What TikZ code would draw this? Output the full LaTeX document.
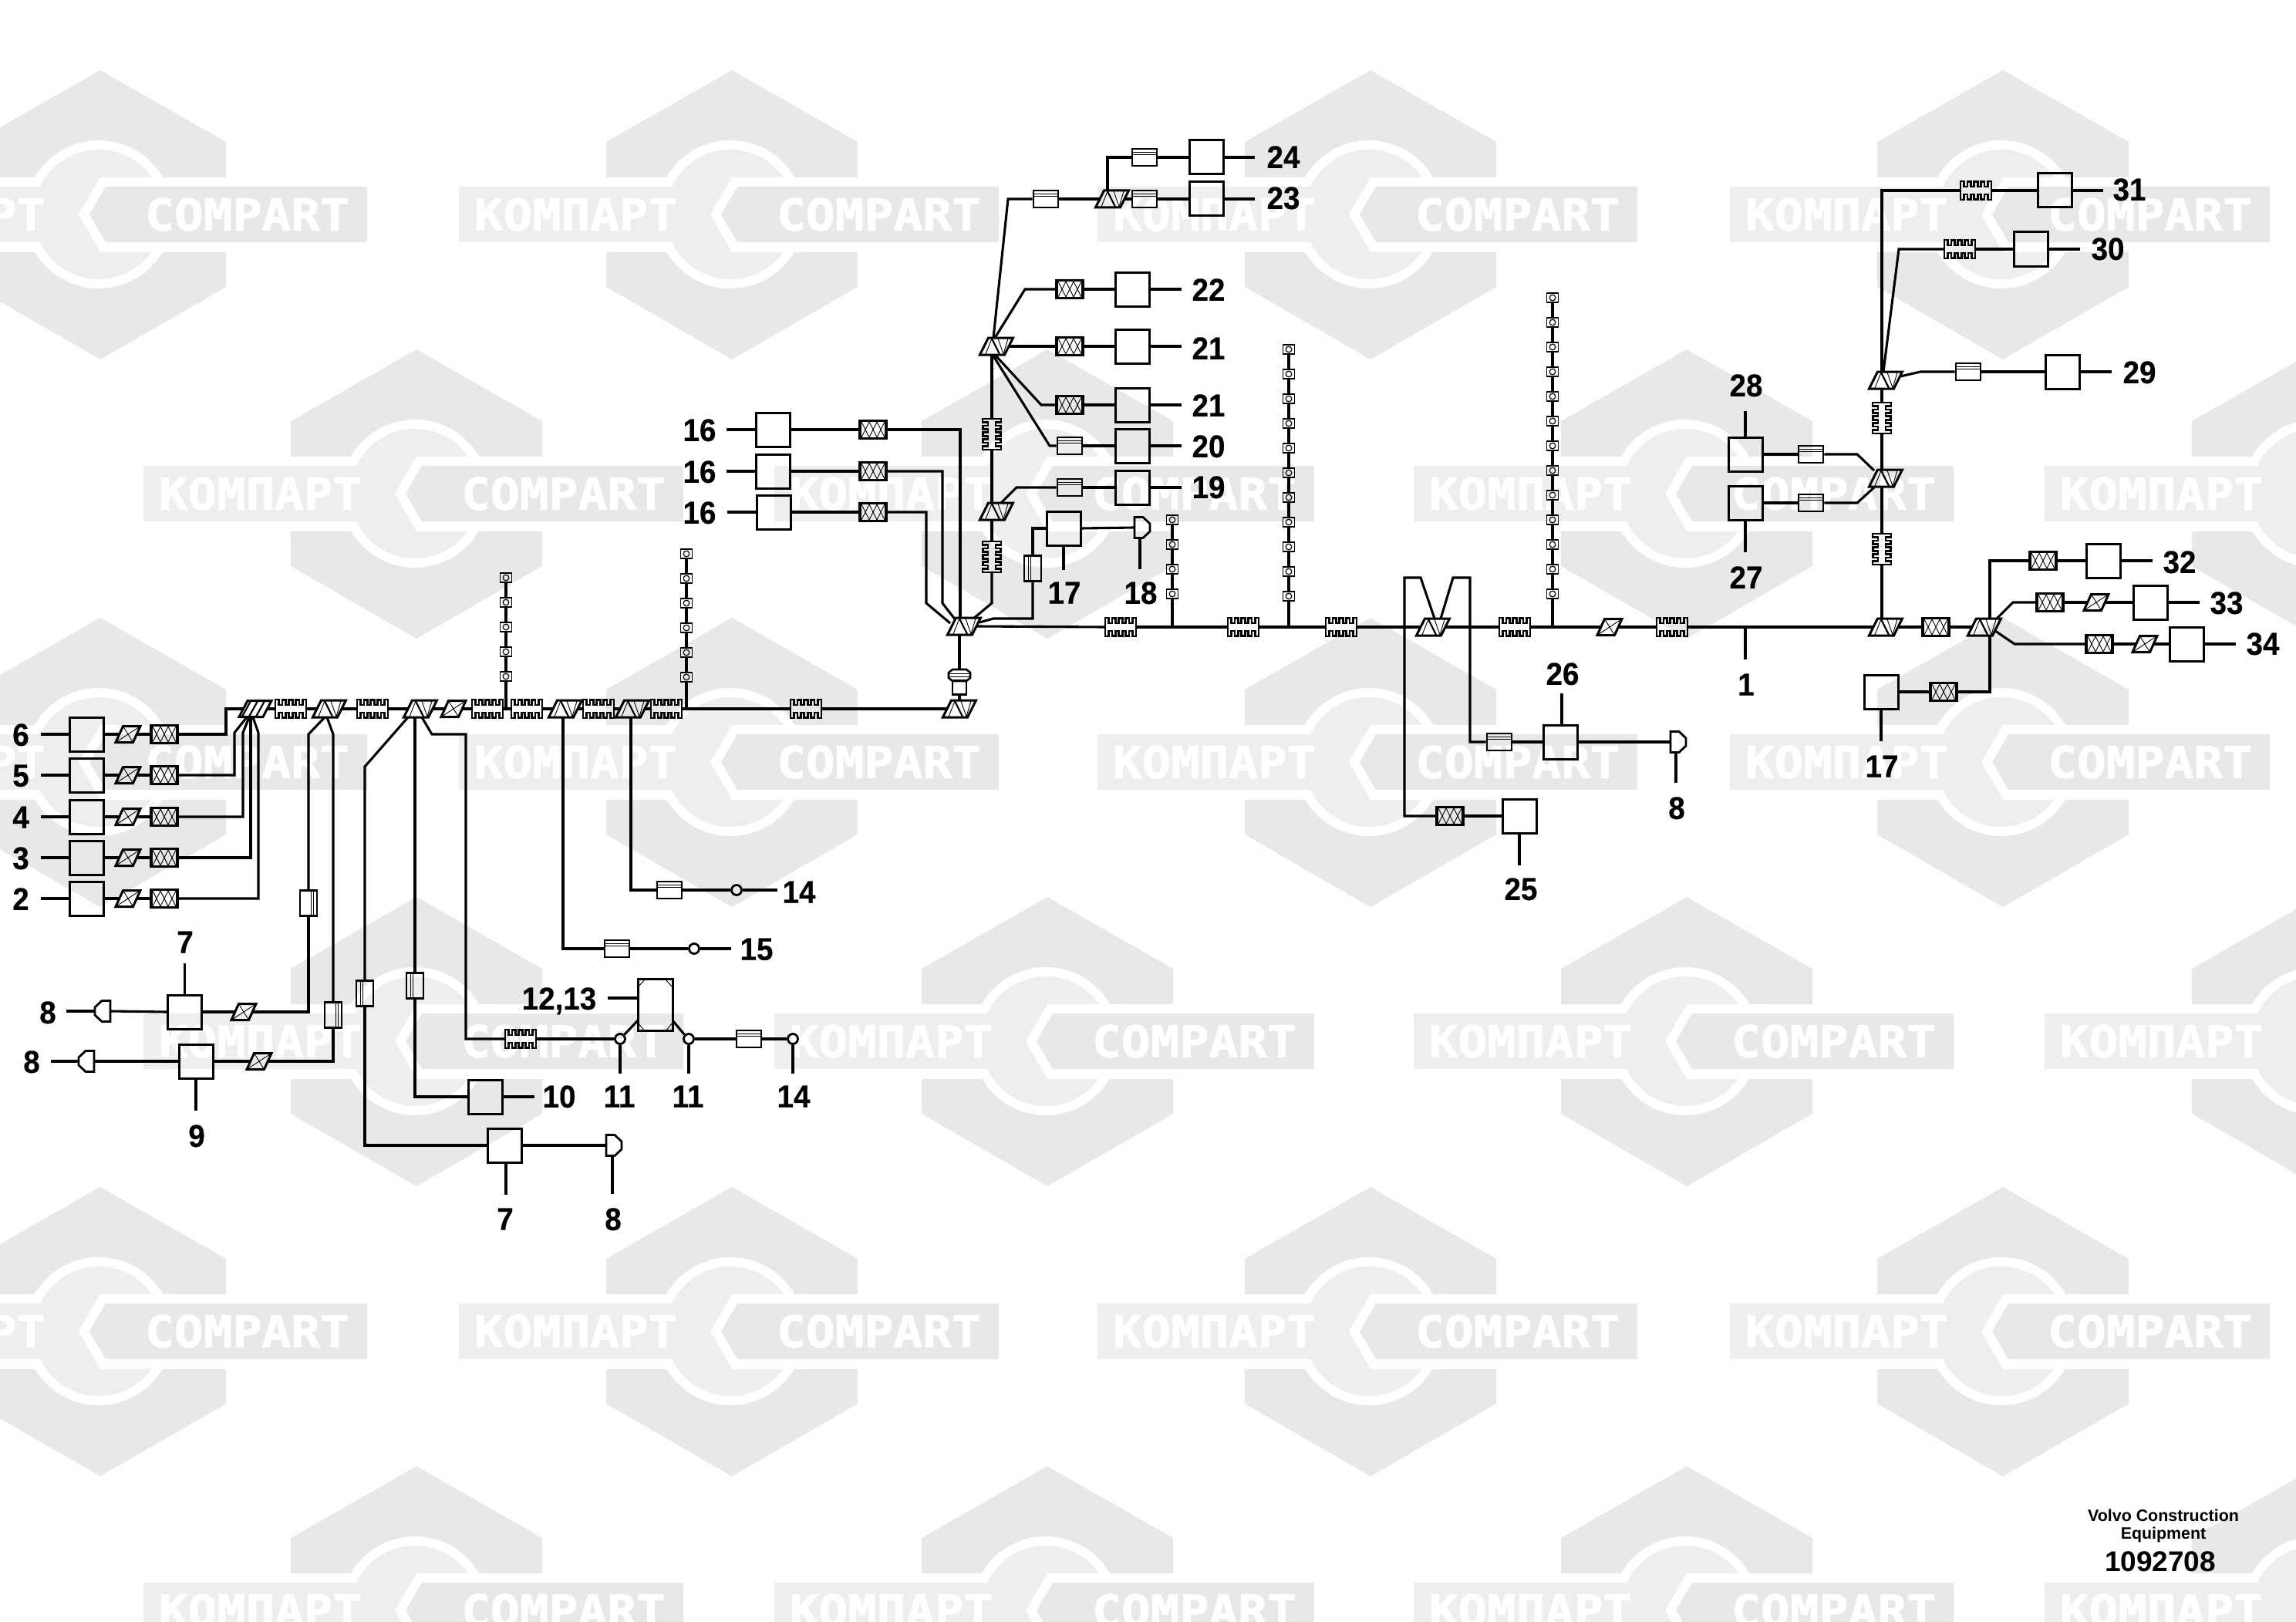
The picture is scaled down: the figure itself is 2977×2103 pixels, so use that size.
\documentclass[tikz,border=0pt]{standalone}
\usepackage{fontspec}
\usepackage{graphicx}
\setmainfont{Liberation Sans}
\newfontfamily\labfont[FakeStretch=0.94,FakeBold=0.35]{Liberation Sans Bold}
\newfontfamily\plainbold{Liberation Sans Bold}
\newfontfamily\wmfont[FakeBold=1.6]{DejaVu Sans Mono Bold}
\definecolor{wmA}{HTML}{E8E8E8}
\definecolor{wmB}{HTML}{EEEEEE}
\tikzset{
  wire/.style={line width=1.55pt,line join=miter},
  lead/.style={line width=1.8pt},
  thinl/.style={line width=.45pt},
  midl/.style={line width=1.1pt},
  boxn/.style={draw,rectangle,line width=1.5pt,minimum width=22pt,minimum height=22pt,inner sep=0pt},
  xxn/.style={draw,rectangle,line width=1.7pt,minimum width=17pt,minimum height=11.5pt,inner sep=0pt},
  shn/.style={draw,rectangle,line width=1.4pt,minimum width=16pt,minimum height=11pt,inner sep=0pt},
  svn/.style={draw,rectangle,line width=1.4pt,minimum width=11pt,minimum height=16.5pt,inner sep=0pt},
  pxn/.style={rectangle,minimum width=11.25pt,minimum height=10.5pt,inner sep=0pt},
  avn/.style={rectangle,minimum width=16pt,minimum height=11pt,inner sep=0pt},
  chn/.style={draw,rectangle,line width=.6pt,minimum width=7.5pt,minimum height=6pt,inner sep=0pt},
  cin/.style={draw,circle,line width=1.4pt,minimum size=6.5pt,inner sep=0pt},
  lab/.style={font=\labfont\fontsize{20.5}{22}\selectfont,inner sep=0pt,text depth=0pt,xshift=.5pt,yshift=-.3pt},
  wmt/.style={text=white,inner sep=0pt},
}
% symbols
\newcommand\Bx[3]{\node[boxn] (#1) at (#2,#3) {};}
\newcommand\XX[3]{\node[xxn] (#1) at (#2,#3) {};
  \begin{scope}[shift={(#2,#3)}]
  \draw[thinl] (-15,-10)--(-5,10) (-15,10)--(-5,-10) (-5,-10)--(5,10) (-5,10)--(5,-10) (5,-10)--(15,10) (5,10)--(15,-10);
  \end{scope}}
\newcommand\Px[3]{\node[pxn] (#1) at (#2,#3) {};
  \begin{scope}[shift={(#2,#3)}]
  \draw[line width=1.5pt,line join=miter] (-16,10.5)--(6.5,10.5)--(16,-10.5)--(-6.5,-10.5)--cycle;
  \draw[thinl] (-16,10.5)--(16,-10.5) (-6.5,-10.5)--(6.5,10.5);
  \end{scope}}
\newcommand\Av[3]{\node[avn] (#1) at (#2,#3) {};
  \begin{scope}[shift={(#2,#3)}]
  \draw[line width=1.5pt,line join=miter] (-21.5,11)--(10.5,11)--(21.5,-11)--(-10.5,-11)--cycle;
  \draw[thinl] (-6,-10)--(-14,10) (2,-10)--(9,10) (15,-10)--(9,10);
  \draw[midl] (-6,-10)--(4,10);
  \end{scope}}
\newcommand\combpath{(-20,-12)--(-15.5,-12)--(-15.5,-5)--(-11,-5)--(-11,-11.5)--(-6.5,-11.5)--(-6.5,-5)--(-2.5,-5)--(-2.5,-11.5)--(2.5,-11.5)--(2.5,-5)--(6.5,-5)--(6.5,-11.5)--(11,-11.5)--(11,-5)--(15.5,-5)--(15.5,-12)--(20,-12)--(20,12)--(15.5,12)--(15.5,5)--(11,5)--(11,11.5)--(6.5,11.5)--(6.5,5)--(2.5,5)--(2.5,11.5)--(-2.5,11.5)--(-2.5,5)--(-6.5,5)--(-6.5,11.5)--(-11,11.5)--(-11,5)--(-15.5,5)--(-15.5,12)--(-20,12)--cycle}
\newcommand\Cb[3]{\node[inner sep=0pt,minimum width=20pt,minimum height=11.5pt] (#1) at (#2,#3) {};
  \begin{scope}[shift={(#2,#3)}]\draw[line width=1.35pt] \combpath;\end{scope}}
\newcommand\Cv[3]{\node[inner sep=0pt,minimum width=11.5pt,minimum height=20pt] (#1) at (#2,#3) {};
  \begin{scope}[shift={(#2,#3)},rotate=90]\draw[line width=1.35pt] \combpath;\end{scope}}
\newcommand\Sh[3]{\node[shn] (#1) at (#2,#3) {};
  \begin{scope}[shift={(#2,#3)}]
  \draw[thinl] (-15,-6.5)--(15,-6.5) (-15,-3.5)--(15,-3.5);
  \end{scope}}
\newcommand\Sv[4]{\node[svn] (#1) at (#2,#3) {};
  \begin{scope}[shift={(#2,#3)}]
  \draw[thinl] (#4*3,-15)--(#4*3,15) (#4*6,-15)--(#4*6,15);
  \end{scope}}
\newcommand\Ci[3]{\node[cin] (#1) at (#2,#3) {};}
% plug: #4 = 1 chamfer on the right, -1 chamfer on the left
\newcommand\Pg[4]{\node[inner sep=0pt,minimum width=10pt,minimum height=13.5pt] (#1) at (#2,#3) {};
  \begin{scope}[shift={(#2,#3)},xscale=#4]
  \draw[line width=1.4pt] (-10,-13.5)--(1,-13.5)--(10,-5)--(10,5)--(1,13.5)--(-10,13.5)--cycle;
  \end{scope}}
\newcommand\Wm[2]{%
  \begin{scope}[shift={(#1,#2)}]
  \fill[wmA] (-163,-48)--(-163,-94)--(0,-187)--(163,-94)--(163,-48)--cycle;
  \fill[wmA] (-163,49)--(-163,94)--(0,188)--(163,94)--(163,49)--cycle;
  \fill[white] (-2,0) circle[radius=96];
  \fill[wmB] (-2,0) circle[radius=84];
  \fill[wmB] (-354,-36) rectangle (-60,36);
  \fill[white] (0,-48)--(-28,0)--(0,49)--(100,49)--(100,-48)--cycle;
  \fill[wmA] (7,-36)--(-14,0)--(7,36)--(346,36)--(346,-36)--cycle;
  \node[wmt] (wk#1x#2) at (-202.5,0) {\resizebox{131.5pt}{21pt}{\wmfont КОМПАРТ}};
  \node[wmt] (wc#1x#2) at (190.5,0) {\resizebox{132.5pt}{21pt}{\wmfont COMPART}};
  \end{scope}}
\newcommand\Spine[5]{% name,x,jy,ybottom,lastindex
  \foreach \i in {0,...,#5}{
    \node[chn] (#1\i) at (#2,#4-\i*32) {};
    \draw[line width=.6pt] (#2,#4-\i*32) circle[radius=3.8];
  }
  \coordinate (#1j) at (#2,#3);
  \draw[wire] (#1j) -- (#10.south);
  \foreach \i in {1,...,#5}{
    \pgfmathtruncatemacro{\j}{\i-1}
    \draw[wire] (#1\j.north) -- (#1\i.south);
  }
}
\begin{document}
\begin{tikzpicture}[x=0.5pt,y=-0.5pt]
\useasboundingbox (0,0) rectangle (2977,2103);
\fill[white] (0,0) rectangle (2977,2103);
\begin{scope}
\clip (0,0) rectangle (2977,2103);
\foreach \yy in {278,988,1726}{\foreach \xx in {130,949,1777,2597}{\Wm{\xx}{\yy}}}
\foreach \yy in {640,1350,2088}{\foreach \xx in {540,1358,2187,3005}{\Wm{\xx}{\yy}}}
\end{scope}

% ---------- left block
\foreach \n/\y in {6/952,5/1005,4/1059,3/1112,2/1165}{
  \Bx{b\n}{112}{\y}
  \Px{q\n}{166}{\y}
  \XX{x\n}{213}{\y}
  \node[lab] (l\n) at (26,\y) {\n};
  \draw[lead] (b\n.west) -- ++(-36,0);
  \draw[wire] (b\n.east) -- (q\n.west);
  \draw[wire] (q\n.east) -- (x\n.west);
}
\node[avn] (p5) at (331,919) {};
\draw[line width=1.5pt,line join=miter] (310,929.5)--(341,929.5)--(352,908.5)--(321,908.5)--cycle;
\draw[midl] (325,909)--(314,929) (334,909)--(323,929) (343,909)--(332,929);
\draw[wire] (x6.east) -- (293,952) -- (293,919) -- (p5.west);
\draw[wire] (x5.east) -- (304,1005) -- (304,950) -- ([shift={(-11,11)}]p5.center);
\draw[wire] (x4.east) -- (315,1059) -- (315,950) -- ([shift={(-8,11)}]p5.center);
\draw[wire] (x3.east) -- (325,1112) -- ([shift={(-6,11)}]p5.center);
\draw[wire] (x2.east) -- (335,1165) -- (335,950) -- ([shift={(-3,11)}]p5.center);

% ---------- row 919
\Cb{c1}{377}{919} \Av{a1}{427}{919} \Cb{c2}{483}{919} \Av{a2}{545}{919}
\Px{pr}{588}{919} \Cb{c3}{632}{919} \Cb{c4}{683}{919} \Av{a3}{733}{919}
\Cb{c5}{776}{919} \Av{a4}{820}{919} \Cb{c6}{864}{919} \Cb{c7}{1045}{919} \Av{a5}{1244}{919}
\foreach \a/\b in {p5/c1,c1/a1,a1/c2,c2/a2,a2/pr,pr/c3,c3/c4,c4/a3,a3/c5,c5/a4,a4/c6,c6/c7,c7/a5}
  \draw[wire] (\a.east) -- (\b.west);

% ---------- small chains
\Spine{cha}{656}{919}{877}{4}
\Spine{chb}{890}{919}{878}{5}
\Spine{chc}{1520}{813}{770}{3}
\Spine{chd}{1671}{813}{773}{10}
\Spine{che}{2013}{813}{770}{12}

% ---------- 7 / 8 row
\Pg{p7}{133}{1311}{-1} \Bx{b7}{239.5}{1312} \Px{pa}{316}{1312} \Sv{s1}{400}{1171}{1}
\node[lab] (l8a) at (61,1312) {8}; \node[lab] (l7a) at (239,1221) {7};
\draw[lead] (p7.west) -- ++(-37,0);
\draw[lead] (b7.north) -- ++(0,-40);
\draw[wire] (p7.east) -- (b7.west);
\draw[wire] (b7.east) -- (pa.west);
\draw[wire] ([shift={(-6,11)}]a1.center) -- (400,952) -- (s1.north);
\draw[wire] (s1.south) -- (400,1312) -- (pa.east);

% ---------- 9 row
\Pg{p9}{112}{1376}{-1} \Bx{b9}{254}{1376} \Px{pb}{336}{1376} \Sv{s2}{432}{1316}{1}
\node[lab] (l8b) at (40,1376) {8}; \node[lab] (l9) at (254,1472) {9};
\draw[lead] (p9.west) -- ++(-36,0);
\draw[lead] (b9.south) -- ++(0,40);
\draw[wire] (p9.east) -- (b9.west);
\draw[wire] (b9.east) -- (pb.west);
\draw[wire] ([shift={(-3,11)}]a1.center) -- (432,952) -- (s2.north);
\draw[wire] (s2.south) -- (432,1376) -- (pb.east);

% ---------- AV2 branches
\Sv{s3}{473}{1288}{-1} \Bx{b7b}{654}{1485} \Pg{p8b}{796}{1485}{1}
\node[lab] (l7b) at (654,1580) {7}; \node[lab] (l8c) at (794,1580) {8};
\draw[wire] ([shift={(-16,11)}]a2.center) -- (473,994) -- (s3.north);
\draw[wire] (s3.south) -- (473,1485) -- (b7b.west);
\draw[wire] (b7b.east) -- (p8b.west);
\draw[lead] ([shift={(2,0)}]b7b.south) -- ++(0,40);
\draw[lead] ([shift={(-2,0)}]p8b.south) -- ++(0,49);

\Sv{s4}{538}{1278}{-1} \Bx{b10}{629}{1422} \node[lab] (l10) at (724,1421) {10};
\draw[wire] ([shift={(-7,11)}]a2.center) -- (s4.north);
\draw[wire] (s4.south) -- (538,1422) -- (b10.west);
\draw[lead] (b10.east) -- ++(40,0);

\Cb{c8}{675}{1347} \Ci{ci1}{804}{1347} \Ci{ci2}{893}{1347} \Sh{s5}{971}{1347} \Ci{ci3}{1028}{1347}
\node[boxn,minimum width=22.5pt,minimum height=33.5pt] (oct) at (849.5,1303) {};
\draw[thinl] (827,1280)--(836,1270) (872,1280)--(863,1270) (827,1326)--(836,1337) (872,1326)--(863,1337);
\node[lab] (l12) at (724,1294) {12,13};
\node[lab] (l11a) at (802,1421) {11}; \node[lab] (l11b) at (891,1421) {11}; \node[lab] (l14a) at (1028,1421) {14};
\draw[lead] (oct.west |- 0,1294) -- ++(-38,0);
\draw[wire] ([shift={(2,11)}]a2.center) -- (560,952) -- (604,952) -- (604,1347) -- (c8.west);
\draw[wire] (c8.east) -- (ci1.west);
\draw[wire] (ci1.north east) -- ([shift={(-22.5,20)}]oct.center);
\draw[wire] ([shift={(22.5,20)}]oct.center) -- (ci2.north west);
\draw[wire] (ci2.east) -- (s5.west);
\draw[wire] (s5.east) -- (ci3.west);
\draw[wire] (ci1.south) -- ++(0,37.5);
\draw[wire] (ci2.south) -- ++(0,37.5);
\draw[wire] (ci3.south) -- ++(0,37.5);

% ---------- 15 and upper 14
\Sh{s15}{800}{1230} \Ci{ci15}{900}{1230} \node[lab] (l15) at (980,1230) {15};
\draw[wire] ([shift={(-3,11)}]a3.center) -- (730,1230) -- (s15.west);
\draw[wire] (s15.east) -- (ci15.west);
\draw[lead] (ci15.east) -- ++(40,0);
\Sh{s14}{868}{1154} \Ci{ci14}{955}{1154} \node[lab] (l14b) at (1035,1156) {14};
\draw[wire] ([shift={(-2,11)}]a4.center) -- (818,1154) -- (s14.west);
\draw[wire] (s14.east) -- (ci14.west);
\draw[lead] (ci14.east) -- ++(45,0);

% ---------- hub 6 + plug connector
\Av{h6}{1250}{812}
\node[inner sep=0pt,minimum width=13.5pt,minimum height=16.5pt] (pc) at (1244,884) {};
\draw[line width=1.3pt] (1235,882.5) rectangle (1253,900.5);
\draw[line width=1.3pt] (1235,868)--(1253,868)--(1258,872)--(1258,879)--(1253,883)--(1235,883)--(1230,879)--(1230,872)--cycle;
\draw[thinl] (1231,873)--(1257,873) (1231,877)--(1257,877);
\draw[wire] ([shift={(-6,11)}]h6.center) -- (pc.north);
\draw[wire] (pc.south) -- ([shift={(0,-11)}]a5.center);

\foreach \k/\y/\xb in {a/557/1002,b/611/1002,c/664/1003.5}{
  \Bx{b16\k}{\xb}{\y}
  \XX{x16\k}{1132}{\y}
  \node[lab] (l16\k) at (906,\y) {16};
  \draw[lead] (b16\k.west) -- ++(-37,0);
  \draw[wire] (b16\k.east) -- (x16\k.west);
}
\draw[wire] (x16a.east) -- (1245,557) -- ([shift={(-5,-11)}]h6.center);
\draw[wire] (x16b.east) -- (1222,611) -- (1222,782) -- ([shift={(-11,-8)}]h6.center);
\draw[wire] (x16c.east) -- (1201,664) -- (1201,782) -- ([shift={(-18,-4)}]h6.center);

\Av{a8}{1292}{663} \Av{a7}{1292}{449} \Cv{cv1}{1286}{722} \Cv{cv2}{1286}{563}
\draw[wire] ([shift={(12,-10)}]h6.center) -- (1286,782) -- (cv1.south);
\draw[wire] (cv1.north) -- ([shift={(-6,11)}]a8.center);
\draw[wire] ([shift={(-6,-11)}]a8.center) -- (cv2.south);
\draw[wire] (cv2.north) -- ([shift={(-6,11)}]a7.center);

\Sh{s19}{1387}{632} \Bx{b19}{1468}{632} \node[lab] (l19) at (1566,631) {19};
\draw[wire] ([shift={(6,-11)}]a8.center) -- (1318,632) -- (s19.west);
\draw[wire] (s19.east) -- (b19.west);
\draw[lead] (b19.east) -- ++(40,0);

\Sv{sv17}{1339}{737}{-1} \Bx{b17t}{1379}{685} \Pg{p18}{1481}{684}{1}
\node[lab] (l17t) at (1379,768) {17}; \node[lab] (l18) at (1478,768) {18};
\draw[wire] ([shift={(20,-5)}]h6.center) -- (1288,802) -- (1339,802) -- (sv17.south);
\draw[wire] (sv17.north) -- (1339,685) -- (b17t.west);
\draw[wire] (b17t.east) -- (p18.west);
\draw[lead] (b17t.south) -- ++(0,30);
\draw[lead] ([shift={(-3,0)}]p18.south) -- ++(0,40);

% ---------- top group
\Sh{s23a}{1356}{258} \Av{a9}{1442}{258} \Sh{s23}{1484}{258} \Bx{b23}{1564}{258} \Sh{s24}{1484}{204} \Bx{b24}{1564}{204}
\node[lab] (l23) at (1663,256) {23}; \node[lab] (l24) at (1663,203) {24};
\draw[wire] ([shift={(-4,-11)}]a7.center) -- (1307,258) -- (s23a.west);
\draw[wire] (s23a.east) -- (a9.west);
\draw[wire] (a9.east) -- (s23.west);
\draw[wire] (s23.east) -- (b23.west);
\draw[lead] (b23.east) -- ++(39,0);
\draw[wire] ([shift={(-6,-11)}]a9.center) -- (1436,204) -- (s24.west);
\draw[wire] (s24.east) -- (b24.west);
\draw[lead] (b24.east) -- ++(39,0);

\XX{x22}{1387}{375} \Bx{b22}{1468}{375} \node[lab] (l22) at (1566,375) {22};
\draw[wire] ([shift={(-2,-11)}]a7.center) -- (1329,375) -- (x22.west);
\XX{x21a}{1387}{449} \Bx{b21a}{1468}{449} \node[lab] (l21a) at (1566,451) {21};
\draw[wire] (a7.east) -- (x21a.west);
\XX{x21b}{1387}{525} \Bx{b21b}{1468}{525} \node[lab] (l21b) at (1566,525) {21};
\draw[wire] ([shift={(-2,11)}]a7.center) -- (1350,525) -- (x21b.west);
\Sh{x20}{1387}{578} \Bx{b20}{1468}{578} \node[lab] (l20) at (1566,578) {20};
\draw[wire] ([shift={(-5,11)}]a7.center) -- (1361,578) -- (x20.west);
\foreach \k in {22,21a,21b,20}{
  \draw[wire] (x\k.east) -- (b\k.west);
  \draw[lead] (b\k.east) -- ++(40,0);
}

% ---------- main bus 813
\Cb{c10}{1453}{813} \Cb{c11}{1612}{813} \Cb{c12}{1739}{813} \Av{a10}{1858}{813}
\Cb{c13}{1964}{813} \Px{pm}{2087}{813} \Cb{c14}{2168}{813} \Av{a11}{2445}{813}
\XX{xm}{2510}{813} \Av{a12}{2573}{813}
\foreach \a/\b in {h6/c10,c10/c11,c11/c12,c12/a10,a10/c13,c13/pm,pm/c14,c14/a11,a11/xm,xm/a12}
  \draw[wire] (\a.east) -- (\b.west);
\coordinate (j1) at (2263,813);
\draw[lead] (j1) -- ++(0,42);
\node[lab] (l1) at (2263,887) {1};

% ---------- 25, 26
\XX{x25}{1880}{1058} \Bx{b25}{1970}{1058} \node[lab] (l25) at (1971,1152) {25};
\draw[wire] ([shift={(2,-11)}]a10.center) -- (1842,749) -- (1821,749) -- (1821,1058) -- (x25.west);
\draw[wire] (x25.east) -- (b25.west);
\draw[lead] (b25.south) -- ++(0,40);
\Sh{s26}{1944}{962} \Bx{b26}{2023}{962} \Pg{p26}{2176}{962}{1}
\node[lab] (l26) at (2025,873) {26}; \node[lab] (l8d) at (2173,1047) {8};
\draw[wire] ([shift={(10,-11)}]a10.center) -- (1884,749) -- (1906,749) -- (1906,962) -- (s26.west);
\draw[wire] (s26.east) -- (b26.west);
\draw[wire] (b26.east) -- (p26.west);
\draw[lead] ([shift={(2,0)}]b26.north) -- ++(0,-40);
\draw[lead] ([shift={(-3,0)}]p26.south) -- ++(0,39);

% ---------- right column
\Cv{cv3}{2440}{712} \Av{am}{2445}{620} \Cv{cv4}{2440}{542} \Av{at}{2445}{493}
\draw[wire] ([shift={(-5,-11)}]a11.center) -- (cv3.south);
\draw[wire] (cv3.north) -- ([shift={(-5,11)}]am.center);
\draw[wire] ([shift={(-5,-11)}]am.center) -- (cv4.south);
\draw[wire] (cv4.north) -- ([shift={(-5,11)}]at.center);

\Cb{c31}{2562}{247} \Bx{b31}{2664}{247} \node[lab] (l31) at (2760,245) {31};
\draw[wire] ([shift={(-5,-11)}]at.center) -- (2440,247) -- (c31.west);
\draw[wire] (c31.east) -- (b31.west);
\draw[lead] (b31.east) -- ++(39,0);
\Cb{c30}{2541}{323} \Bx{b30}{2633}{323} \node[lab] (l30) at (2732,322) {30};
\draw[wire] ([shift={(-3,-11)}]at.center) -- (2462,323) -- (c30.west);
\draw[wire] (c30.east) -- (b30.west);
\draw[lead] (b30.east) -- ++(40,0);
\Sh{s29}{2552}{482} \Bx{b29}{2674}{482} \node[lab] (l29) at (2773,482) {29};
\draw[wire] ([shift={(19,-5)}]at.center) -- (2490,482) -- (s29.west);
\draw[wire] (s29.east) -- (b29.west);
\draw[lead] (b29.east) -- ++(40,0);

\Sh{s28}{2348}{589} \Bx{b28}{2263}{589} \node[lab] (l28) at (2263,499) {28};
\Sh{s27}{2348}{652} \Bx{b27}{2263}{652} \node[lab] (l27) at (2263,748) {27};
\draw[wire] ([shift={(-15,-10)}]am.center) -- (2408,589) -- (s28.east);
\draw[wire] (s28.west) -- (b28.east);
\draw[lead] (b28.north) -- ++(0,-33);
\draw[wire] ([shift={(-15,12)}]am.center) -- (2408,652) -- (s27.east);
\draw[wire] (s27.west) -- (b27.east);
\draw[lead] (b27.south) -- ++(0,40);

\XX{x32}{2649}{727} \Bx{b32}{2727}{727} \node[lab] (l32) at (2825,728) {32};
\draw[wire] ([shift={(7,-11)}]a12.center) -- (2580,727) -- (x32.west);
\draw[wire] (x32.east) -- (b32.west);
\draw[lead] (b32.east) -- ++(40,0);
\XX{x33}{2658}{781} \Px{q33}{2718}{781} \Bx{b33}{2788}{781} \node[lab] (l33) at (2886,781) {33};
\draw[wire] ([shift={(16,-11)}]a12.center) -- (2610,781) -- (x33.west);
\draw[wire] (x33.east) -- (q33.west);
\draw[wire] (q33.east) -- (b33.west);
\draw[lead] (b33.east) -- ++(40,0);
\XX{x34}{2722}{835} \Px{q34}{2781}{835} \Bx{b34}{2835}{835} \node[lab] (l34) at (2933,834) {34};
\draw[wire] ([shift={(14,5)}]a12.center) -- (2612,835) -- (x34.west);
\draw[wire] (x34.east) -- (q34.west);
\draw[wire] (q34.east) -- (b34.west);
\draw[lead] (b34.east) -- ++(40,0);
\XX{x17}{2520}{897} \Bx{b17}{2439}{897} \node[lab] (l17) at (2439,993) {17};
\draw[wire] ([shift={(7,11)}]a12.center) -- (2580,897) -- (x17.east);
\draw[wire] (x17.west) -- (b17.east);
\draw[lead] (b17.south) -- ++(0,40);

% ---------- caption
\node[font=\plainbold\fontsize{10.7}{12}\selectfont,inner sep=0pt] (cap1) at (2805,1965) {Volvo Construction};
\node[font=\plainbold\fontsize{10.7}{12}\selectfont,inner sep=0pt] (cap2) at (2805,1990) {Equipment};
\node[font=\plainbold\fontsize{18.5}{20}\selectfont,inner sep=0pt] (cap3) at (2801,2025) {1092708};
\end{tikzpicture}
\end{document}
